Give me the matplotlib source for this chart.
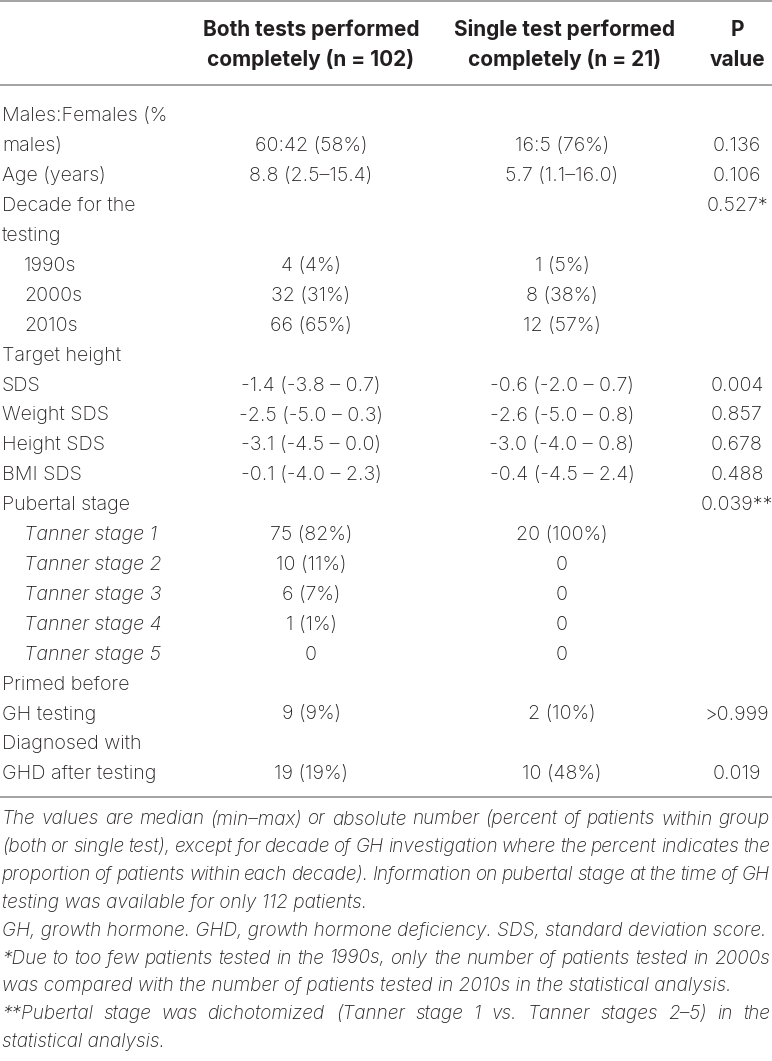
import matplotlib
matplotlib.use('Agg')
import matplotlib.pyplot as plt

plt.rcParams['font.family'] = ['Inter', 'DejaVu Sans']

# Table content
header_both = ['Both tests performed', 'completely (n = 102)']
header_single = ['Single test performed', 'completely (n = 21)']
header_p = ['P', 'value']

row_labels = ['Males:Females (%', 'males)', 'Age (years)', 'Decade for the', 'testing',
              '1990s', '2000s', '2010s', 'Target height', 'SDS', 'Weight SDS',
              'Height SDS', 'BMI SDS', 'Pubertal stage', 'Tanner stage 1',
              'Tanner stage 2', 'Tanner stage 3', 'Tanner stage 4', 'Tanner stage 5',
              'Primed before', 'GH testing', 'Diagnosed with', 'GHD after testing']
both_values = ['', '60:42 (58%)', '8.8 (2.5–15.4)', '', '',
               '4 (4%)', '32 (31%)', '66 (65%)', '', '-1.4 (-3.8 – 0.7)', '-2.5 (-5.0 – 0.3)',
               '-3.1 (-4.5 – 0.0)', '-0.1 (-4.0 – 2.3)', '', '75 (82%)',
               '10 (11%)', '6 (7%)', '1 (1%)', '0',
               '', '9 (9%)', '', '19 (19%)']
single_values = ['', '16:5 (76%)', '5.7 (1.1–16.0)', '', '',
                 '1 (5%)', '8 (38%)', '12 (57%)', '', '-0.6 (-2.0 – 0.7)', '-2.6 (-5.0 – 0.8)',
                 '-3.0 (-4.0 – 0.8)', '-0.4 (-4.5 – 2.4)', '', '20 (100%)',
                 '0', '0', '0', '0',
                 '', '2 (10%)', '', '10 (48%)']
p_values = ['', '0.136', '0.106', '0.527*', '',
            '', '', '', '', '0.004', '0.857',
            '0.678', '0.488', '0.039**', '',
            '', '', '', '',
            '', '>0.999', '', '0.019']
indented_rows = [5, 6, 7, 14, 15, 16, 17, 18]
italic_rows = [14, 15, 16, 17, 18]

notes = [
    ('The values are median (min–max) or absolute number (percent of patients within group', True),
    ('(both or single test), except for decade of GH investigation where the percent indicates the', True),
    ('proportion of patients within each decade). Information on pubertal stage at the time of GH', True),
    ('testing was available for only 112 patients.', False),
    ('GH, growth hormone. GHD, growth hormone deficiency. SDS, standard deviation score.', False),
    ('*Due to too few patients tested in the 1990s, only the number of patients tested in 2000s', True),
    ('was compared with the number of patients tested in 2010s in the statistical analysis.', False),
    ('**Pubertal stage was dichotomized (Tanner stage 1 vs. Tanner stages 2–5) in the', True),
    ('statistical analysis.', False),
]

W, H = 772, 1061
txt_color = '#231f20'
rule_color = '#9c9c9c'
fs = 14.2
fs_head = 15.0

fig = plt.figure(figsize=(W / 100, H / 100), dpi=100)
ax = fig.add_axes([0, 0, 1, 1])
ax.set_xlim(0, W)
ax.set_ylim(H, 0)
ax.axis('off')

# rules
for yy in [1, 85, 797]:
    ax.plot([0, W], [yy, yy], color=rule_color, lw=1.3, solid_capstyle='butt')

# header
x_both, x_single, x_p = 311, 565, 737
for k in range(2):
    yb = 36 + 30 * k
    ax.text(x_both, yb, header_both[k], ha='center', va='baseline', fontsize=fs_head,
            fontweight='bold', color=txt_color)
    ax.text(x_single, yb, header_single[k], ha='center', va='baseline', fontsize=fs_head,
            fontweight='bold', color=txt_color)
    ax.text(x_p, yb, header_p[k], ha='center', va='baseline', fontsize=fs_head,
            fontweight='bold', color=txt_color)

# body rows
for i, lab in enumerate(row_labels):
    yb = 121.5 + 29.9 * i
    x0 = 24 if i in indented_rows else 2
    style = 'italic' if i in italic_rows else 'normal'
    ax.text(x0, yb, lab, ha='left', va='baseline', fontsize=fs, fontstyle=style,
            fontweight='light', color=txt_color)
    ax.text(x_both, yb, both_values[i], ha='center', va='baseline', fontsize=fs,
            fontweight='light', color=txt_color)
    ax.text(x_single - 3, yb, single_values[i], ha='center', va='baseline', fontsize=fs,
            fontweight='light', color=txt_color)
    ax.text(x_p, yb, p_values[i], ha='center', va='baseline', fontsize=fs,
            fontweight='light', color=txt_color)

# footnote: size chosen so the abbreviation line fills the width
fig.canvas.draw()
renderer = fig.canvas.get_renderer()


def width_of(s, size):
    t = ax.text(0, 0, s, fontsize=size, fontstyle='italic', fontweight='light')
    w = t.get_window_extent(renderer).width
    t.remove()
    return w


fs_note = 12.0
fs_note = fs_note * 766 / width_of(notes[4][0], fs_note)

left, right = 2, 770
for j, (line, justify) in enumerate(notes):
    yb = 824.5 + 27.8 * j
    if not justify:
        ax.text(left, yb, line, ha='left', va='baseline', fontsize=fs_note,
                fontstyle='italic', fontweight='light', color=txt_color)
        continue
    words = line.split(' ')
    widths = [width_of(w, fs_note) for w in words]
    gap = (right - left - sum(widths)) / (len(words) - 1)
    x = left
    for w, wd in zip(words, widths):
        ax.text(x, yb, w, ha='left', va='baseline', fontsize=fs_note,
                fontstyle='italic', fontweight='light', color=txt_color)
        x += wd + gap

fig.savefig('out.png', dpi=100)
